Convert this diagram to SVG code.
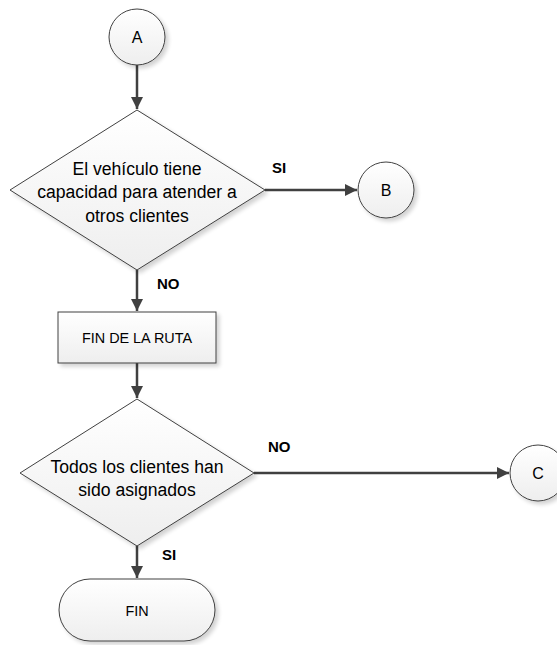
<svg xmlns="http://www.w3.org/2000/svg" width="557" height="645" viewBox="0 0 557 645">
  <style>
    .shape { fill: url(#shapeFill); stroke: #404040; stroke-width: 1; filter: url(#shadow); }
    .conn { fill: none; stroke: #404040; stroke-width: 2.5; }
    .txt { font-family: "Liberation Sans", Arial, sans-serif; fill: #000; text-anchor: middle; }
    .lbl { font-family: "Liberation Sans", Arial, sans-serif; font-weight: bold; font-size: 15px; fill: #000; }
  </style>
  <defs>
    <linearGradient id="shapeFill" x1="0" y1="0" x2="0" y2="1">
      <stop offset="0" stop-color="#ffffff"/>
      <stop offset="1" stop-color="#eeeeee"/>
    </linearGradient>
    <filter id="shadow" x="-20%" y="-20%" width="150%" height="150%">
      <feGaussianBlur in="SourceAlpha" stdDeviation="2"/>
      <feOffset dx="3" dy="3" result="b"/>
      <feComponentTransfer><feFuncA type="linear" slope="0.18"/></feComponentTransfer>
      <feMerge><feMergeNode/><feMergeNode in="SourceGraphic"/></feMerge>
    </filter>
    <marker id="arrow" viewBox="0 0 10 10" refX="10" refY="5" markerWidth="5" markerHeight="5" markerUnits="strokeWidth" orient="auto">
      <path d="M0,0 L10,5 L0,10 z" fill="#404040"/>
    </marker>
  </defs>

  <!-- connectors -->
  <g id="connectors">
    <line class="conn" x1="137" y1="65" x2="137" y2="109" marker-end="url(#arrow)"/>
    <line class="conn" x1="265" y1="190" x2="357" y2="190" marker-end="url(#arrow)"/>
    <line class="conn" x1="137" y1="270" x2="137" y2="311" marker-end="url(#arrow)"/>
    <line class="conn" x1="137" y1="363" x2="137" y2="398" marker-end="url(#arrow)"/>
    <line class="conn" x1="254" y1="473" x2="509" y2="473" marker-end="url(#arrow)"/>
    <line class="conn" x1="137" y1="546" x2="137" y2="578" marker-end="url(#arrow)"/>
    <text class="lbl" x="272" y="173">SI</text>
    <text class="lbl" x="157" y="289">NO</text>
    <text class="lbl" x="268" y="452">NO</text>
    <text class="lbl" x="162" y="560">SI</text>
  </g>

  <g id="nodeA">
    <circle class="shape" cx="137" cy="37" r="28"/>
    <text class="txt" x="137" y="43" font-size="16">A</text>
  </g>

  <g id="decision1">
    <polygon class="shape" points="137,110 265,190 137,270 10,190"/>
    <text class="txt" font-size="17.6" x="137" y="175">El vehículo tiene</text>
    <text class="txt" font-size="17.6" x="137" y="198">capacidad para atender a</text>
    <text class="txt" font-size="17.6" x="137" y="222">otros clientes</text>
  </g>

  <g id="nodeB">
    <circle class="shape" cx="386" cy="190" r="28"/>
    <text class="txt" x="386" y="196" font-size="16">B</text>
  </g>

  <g id="finRuta">
    <rect class="shape" x="58" y="312" width="158" height="51"/>
    <text class="txt" x="137" y="343" font-size="14.4">FIN DE LA RUTA</text>
  </g>

  <g id="decision2">
    <polygon class="shape" points="137,399 254,473 137,546 20,473"/>
    <text class="txt" font-size="17.6" x="137" y="473">Todos los clientes han</text>
    <text class="txt" font-size="17.6" x="137" y="496">sido asignados</text>
  </g>

  <g id="nodeC">
    <circle class="shape" cx="538" cy="473" r="28"/>
    <text class="txt" x="538" y="479" font-size="16">C</text>
  </g>

  <g id="fin">
    <rect class="shape" x="59" y="579" width="156" height="62" rx="31" ry="31"/>
    <text class="txt" x="137" y="616" font-size="14.4">FIN</text>
  </g>
</svg>
